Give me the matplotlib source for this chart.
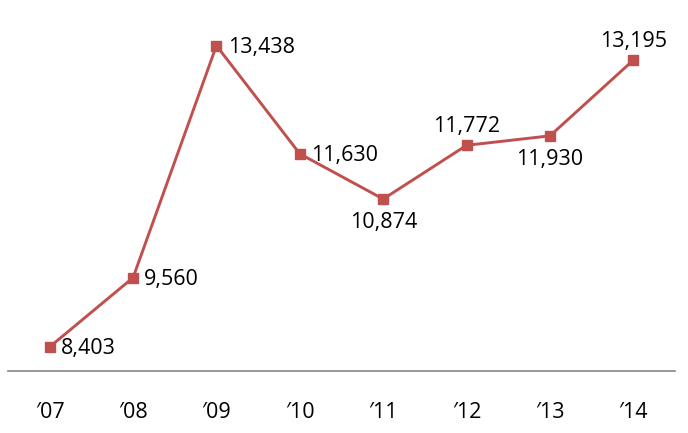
import matplotlib
matplotlib.use("Agg")
import matplotlib.pyplot as plt

years = ["\u203207", "\u203208", "\u203209", "\u203210", "\u203211", "\u203212", "\u203213", "\u203214"]
values = [8403, 9560, 13438, 11630, 10874, 11772, 11930, 13195]
# where each data label sits relative to its point
label_pos = ["right", "right", "right", "right", "below", "above", "below", "above"]

plt.rcParams['font.family'] = ['Open Sans', 'DejaVu Sans']

fig = plt.figure(figsize=(6.88, 4.33), dpi=100)
ax = fig.add_axes([8/688, 62/433, 667/688, 359/433])

x = list(range(len(values)))
red = '#C0504D'
ax.plot(x, values, color=red, lw=2.1, marker='s', markersize=7, zorder=3)

fs = 15.5
for xi, v, pos in zip(x, values, label_pos):
    txt = f"{v:,}"
    if pos == "right":
        ax.annotate(txt, (xi, v), xytext=(8, -1.5), textcoords='offset points',
                    ha='left', va='center', fontsize=fs)
    elif pos == "below":
        ax.annotate(txt, (xi, v), xytext=(0, -9.5), textcoords='offset points',
                    ha='center', va='top', fontsize=fs)
    else:
        ax.annotate(txt, (xi, v), xytext=(0, 6), textcoords='offset points',
                    ha='center', va='bottom', fontsize=fs)

ax.set_xlim(-0.5, len(values) - 0.5)
ax.set_ylim(8000, 14000)
ax.set_xticks(x)
ax.set_xticklabels(years, fontsize=fs)
ax.set_yticks([])
ax.tick_params(axis='x', length=0, pad=22)
for s in ['top', 'left', 'right']:
    ax.spines[s].set_visible(False)
ax.spines['bottom'].set_color('#868686')
ax.spines['bottom'].set_linewidth(1.2)

fig.savefig("out.png", dpi=100)
